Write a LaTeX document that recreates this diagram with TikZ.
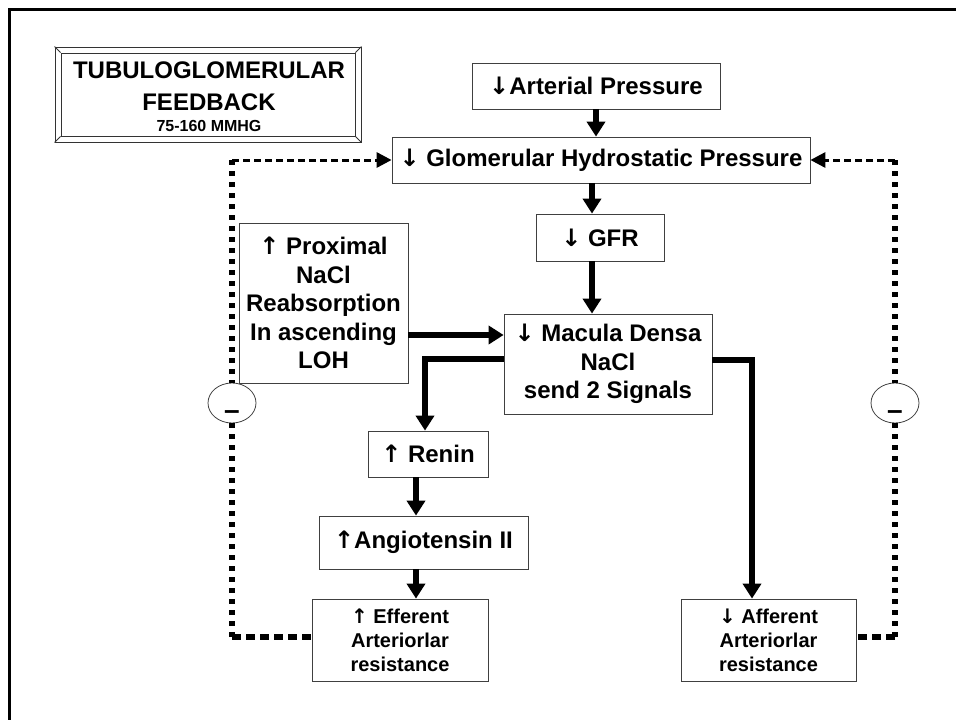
\documentclass[tikz,border=0pt]{standalone}
\usepackage{fontspec}
\setmainfont{Liberation Sans}
\newfontfamily\arrfont{DejaVu Sans}
\newcommand\mydown{{\arrfont\bfseries ↓}}
\newcommand\myup{{\arrfont\bfseries ↑}}
\usetikzlibrary{arrows.meta,shapes.geometric}
\begin{document}
\begin{tikzpicture}[x=1pt,y=-1pt,
 box/.style={draw=black!75,line width=0.8pt,inner sep=0pt,align=center,font=\bfseries\fontsize{24}{28.5}\selectfont},
 sbox/.style={box,font=\bfseries\fontsize{20}{24}\selectfont},
 flow/.style={line width=6pt,-{Triangle[width=18pt,length=15pt]}},
 vdot/.style={line width=6pt,dash pattern=on 5pt off 6pt},
 hdott/.style={line width=3pt,dash pattern=on 7pt off 4pt},
 hdotb/.style={line width=6pt,dash pattern=on 9pt off 5pt},
 fbtip/.style={-{Triangle[width=15pt,length=15pt]}},
 minus/.style={ellipse,draw=black!75,line width=0.8pt,fill=white,minimum width=48pt,minimum height=40pt,inner sep=0pt},
 frame/.style={draw=black!80,line width=0.9pt,inner sep=0pt},
 ttl/.style={anchor=base,inner sep=0pt,font=\bfseries\fontsize{24}{24}\selectfont}]

\useasboundingbox (0,0) rectangle (956,720);
\draw[line width=3pt] (9.5,720) -- (9.5,9) -- (956,9);

% title
\node[frame,minimum width=306pt,minimum height=95pt] (title) at (208,94.5) {};
\node[frame,minimum width=294pt,minimum height=83pt] (titlein) at (208,94.5) {};
\draw[black!80,line width=0.9pt] (title.north west) -- (titlein.north west);
\draw[black!80,line width=0.9pt] (title.north east) -- (titlein.north east);
\draw[black!80,line width=0.9pt] (title.south west) -- (titlein.south west);
\draw[black!80,line width=0.9pt] (title.south east) -- (titlein.south east);
\node[ttl] (t1) at (209,78.5) {TUBULOGLOMERULAR};
\node[ttl] (t2) at (209,110.5) {FEEDBACK};
\node[ttl,font=\bfseries\fontsize{16}{16}\selectfont] (t3) at (209,131) {75-160 MMHG};

% boxes
\node[box,minimum width=248pt,minimum height=46pt] (ap) at (596,86) {\mydown Arterial Pressure};
\node[box,minimum width=418pt,minimum height=46pt] (ghp) at (601,160) {\mydown{} Glomerular Hydrostatic Pressure};
\node[box,minimum width=128pt,minimum height=47pt] (gfr) at (600,237.5) {\mydown{} GFR};
\node[box,minimum width=208pt,minimum height=100pt] (md) at (608,364) {\mydown{} Macula Densa\\NaCl\\send 2 Signals};
\node[box,minimum width=169pt,minimum height=160pt] (prox) at (323.5,303) {\myup{} Proximal\\NaCl\\Reabsorption\\In ascending\\LOH};
\node[box,minimum width=120pt,minimum height=46pt] (renin) at (428,454) {\myup{} Renin};
\node[box,minimum width=209pt,minimum height=53pt] (angio) at (423.5,542.5) {\myup Angiotensin II};
\node[sbox,minimum width=176pt,minimum height=82pt] (eff) at (400,640) {\myup{} Efferent\\Arteriorlar\\resistance};
\node[sbox,minimum width=175pt,minimum height=82pt] (aff) at (768.5,640) {\mydown{} Afferent\\Arteriorlar\\resistance};

% flow arrows
\coordinate (x1) at ([xshift=-8pt]gfr.north);
\draw[flow] (ap.south) -- (ap.south |- ghp.north);
\draw[flow] (x1 |- ghp.south) -- (x1);
\draw[flow] (x1 |- gfr.south) -- (x1 |- md.north);
\coordinate (p1) at ([yshift=-32pt]prox.east);
\draw[flow] (p1) -- (p1 -| md.west);
\coordinate (r1) at ([xshift=-3pt]renin.north);
\draw[flow] ([yshift=5pt]md.west) -| (r1);
\coordinate (a1) at ([xshift=-16.5pt]aff.north);
\draw[flow] ([yshift=4pt]md.east) -| (a1);
\coordinate (g1) at ([xshift=-7.5pt]angio.north);
\draw[flow] (g1 |- renin.south) -- (g1);
\coordinate (e1) at ([xshift=16pt]eff.north);
\draw[flow] (e1 |- angio.south) -- (e1);

% feedback loops
\coordinate (kL) at (232,160);
\coordinate (bL) at (232,637);
\coordinate (kR) at (895,160);
\coordinate (bR) at (895,637);
\node[minus] (c1) at (232,403) {};
\node[minus] (c2) at (895,403) {};
\draw[hdott,fbtip] (kL) -- (ghp.west);
\draw[vdot] (kL) -- (c1.north);
\draw[vdot] (c1.south) -- (bL);
\draw[hdotb] (bL) -- (bL -| eff.west);
\draw[hdott,fbtip] (kR) -- (ghp.east);
\draw[vdot] (kR) -- (c2.north);
\draw[vdot] (c2.south) -- (bR);
\draw[hdotb] (bR) -- (bR -| aff.east);
\node[anchor=base,inner sep=0pt,font=\bfseries\fontsize{28}{28}\selectfont] (m1) at ([yshift=-16pt]c1.center) {–};
\node[anchor=base,inner sep=0pt,font=\bfseries\fontsize{28}{28}\selectfont] (m2) at ([yshift=-16pt]c2.center) {–};
\end{tikzpicture}
\end{document}
